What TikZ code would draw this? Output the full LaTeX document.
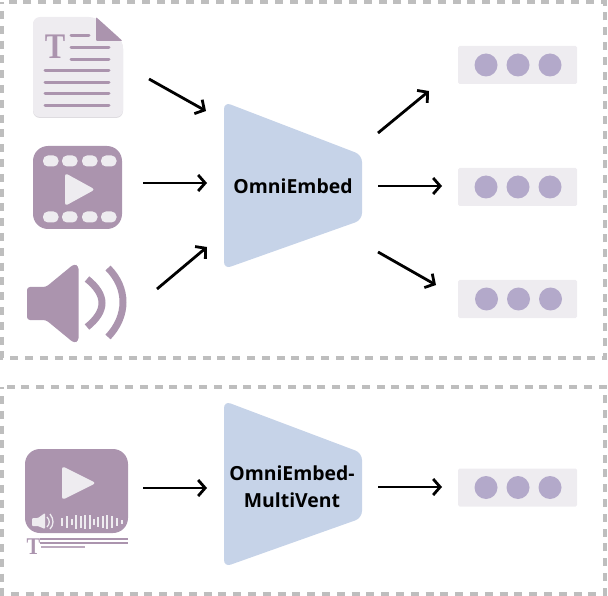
\documentclass[tikz,border=0pt]{standalone}
\usepackage{fontspec}
\usepackage{xcolor}
\usetikzlibrary{arrows.meta}
\setmainfont{Open Sans}
\newfontfamily\iconfont{Liberation Serif}

\tikzset{
  frame/.style={draw=cframe,line width=4pt,dash pattern=on 8pt off 6.8pt,dash phase=5.8pt},
  flow/.style={draw=black,line width=2.8pt,-{Straight Barb[length=7pt,width=16pt,line width=2.8pt]}},
  encoder/.style={fill=cenc,rounded corners=7pt},
  enclabel/.style={font=\bfseries\fontsize{19.4}{27}\selectfont,align=center,text=black,inner sep=0pt},
  outbox/.style={fill=cbox,rounded corners=1.5pt},
  outdot/.style={circle,fill=cdot,minimum size=23pt,inner sep=0pt},
  iconline/.style={draw=cicon,line width=3pt,line cap=round},
  iconT/.style={text=cicon,inner sep=0pt,xscale=.85},
  hole/.style={fill=cbox,rounded corners=5pt},
}

\begin{document}
\begin{tikzpicture}[x=1pt,y=-1pt]
\definecolor{cframe}{RGB}{190,190,190}
\definecolor{cenc}{RGB}{198,211,232}
\definecolor{cbox}{RGB}{238,236,240}
\definecolor{cdot}{RGB}{179,169,202}
\definecolor{cicon}{RGB}{171,148,174}
\definecolor{cshade}{RGB}{222,220,224}
%
\useasboundingbox (0,0) rectangle (608,596);
\draw[frame] (2,2) rectangle (605,358);
\draw[frame] (2,387) rectangle (605,594);
%
% text file
\fill[cshade,rounded corners=7pt] (33,18) -- (96,18) -- (123,42) -- (123,118) -- (33,118) -- cycle;
\fill[cbox,rounded corners=7pt] (33,17) -- (96,17) -- (123,41) -- (123,117) -- (33,117) -- cycle;
\fill[cicon,rounded corners=1pt] (96,17) -- (122.5,41) -- (96,41) -- cycle;
\node[iconT,font=\iconfont\bfseries\fontsize{36}{36}\selectfont] (doct) at (55,47) {T};
\draw[iconline] (71,36) -- (89,36);
\foreach \y in {48,60} \draw[iconline] (71,\y) -- (109,\y);
\foreach \y in {71,83,94,106} \draw[iconline] (45,\y) -- (109,\y);
%
% film
\fill[cicon,rounded corners=15pt] (33,146) rectangle (122,229);
\foreach \x in {43,62,82,101} {
  \fill[hole] (\x,155.5) rectangle ++(15.5,11);
  \fill[hole] (\x,211.5) rectangle ++(15.5,11);
}
\fill[cbox,rounded corners=3pt] (65,173) -- (95,189.5) -- (65,206) -- cycle;
%
% speaker
\fill[cicon,rounded corners=3pt] (27,287) -- (46,287) -- (74,264) -- (78.5,266) -- (78.5,341) -- (74,343) -- (46,320) -- (27,320) -- cycle;
\draw[cicon,line width=7pt] (87,279) .. controls (107,295) and (107,311) .. (87,327);
\draw[cicon,line width=7pt] (108,268) .. controls (128,288) and (128,316) .. (108,337);
%
% merged input
\fill[cicon,rounded corners=15pt] (25,449) rectangle (128,533);
\fill[cbox,rounded corners=3pt] (62,466) -- (96,483) -- (62,500) -- cycle;
\fill[cbox,rounded corners=1pt] (32,518) -- (38,518) -- (45,513) -- (45,529) -- (38,526) -- (32,526) -- cycle;
\draw[cbox,line width=1.3pt] (47,517) .. controls (50,520) and (50,524) .. (47,527);
\draw[cbox,line width=1.3pt] (50,514) .. controls (54,519) and (54,525) .. (50,529);
\foreach \x/\h in {62/4,67/6,72/3,76/7,81/6,85/7,90/7,94/3,98/5,103/6,107/7,112/6,117/4,122/2}
  \draw[cbox,line width=1.2pt] (\x,522-\h) -- (\x,522+\h);
\node[iconT,font=\iconfont\bfseries\fontsize{24}{24}\selectfont] (allt) at (33.5,546.5) {T};
\draw[cicon,line width=2pt] (40,539) -- (128,539);
\draw[cicon,line width=2pt] (40,543) -- (128,543);
\draw[cicon!80,line width=2pt] (41,547) -- (85,547);
%
% encoders
\fill[encoder] (224,102) -- (362,155) -- (362,220) -- (224,269) -- cycle;
\fill[encoder] (224,401) -- (362,453) -- (362,518) -- (224,567) -- cycle;
\node[enclabel] (enc) at (293,186) {OmniEmbed};
\node[enclabel] (multi) at (292,486.5) {OmniEmbed-\\MultiVent};
%
% outputs
\foreach \n/\y/\s in {a/65/0,b/187/0,c/299/0.5,d/487.5/0} {
  \fill[outbox] (458,\y-19) rectangle (577,\y+19);
  \foreach \i/\x in {1/486,2/518,3/550}
    \node[outdot] (o\n\i) at (\x+\s,\y) {};
}
%
% arrow ends
\coordinate (in1) at (149,79);
\coordinate (in2) at (143,183);
\coordinate (in3) at (157,289);
\coordinate (in4) at (143,488);
\coordinate (enc1) at (206,111);
\coordinate (enc2) at (207,183);
\coordinate (enc3) at (207,247);
\coordinate (enc4) at (207,488);
\coordinate (out1) at (378,133);
\coordinate (out2) at (378,186);
\coordinate (out3) at (378,252);
\coordinate (out4) at (378,487);
\coordinate (res1) at (429,91);
\coordinate (res2) at (442,186);
\coordinate (res3) at (436,285);
\coordinate (res4) at (442,487);
%
\foreach \i in {1,2,3,4} {
  \draw[flow] (in\i) -- (enc\i);
  \draw[flow] (out\i) -- (res\i);
}
%
\end{tikzpicture}
\end{document}
